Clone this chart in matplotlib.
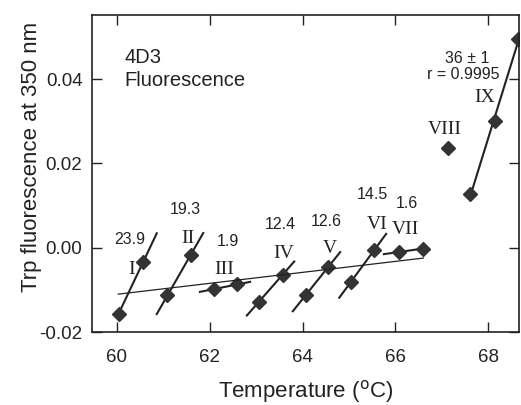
import matplotlib
matplotlib.use("Agg")
import matplotlib.pyplot as plt
import numpy as np

plt.rcParams['font.family'] = ['Liberation Sans', 'DejaVu Sans']

# measured points (temperature, fluorescence) for each transition
seg_x = [
    [60.04, 60.57],
    [61.09, 61.59],
    [62.09, 62.59],
    [63.06, 63.57],
    [64.07, 64.55],
    [65.04, 65.54],
    [66.08, 66.59],
    [67.61, 68.15, 68.64],
]
seg_y = [
    [-0.0156, -0.0033],
    [-0.0113, -0.0017],
    [-0.0098, -0.0087],
    [-0.0128, -0.0064],
    [-0.0112, -0.0046],
    [-0.0081, -0.0006],
    [-0.0010, -0.0002],
    [0.0128, 0.0301, 0.0495],
]
# x extent of each fitted line
fit_range = [
    [60.0, 60.86],
    [60.86, 61.86],
    [61.79, 62.87],
    [62.80, 63.82],
    [63.79, 64.81],
    [64.79, 65.80],
    [65.75, 66.59],
    [67.61, 68.70],
]
viii_x = [67.13]
viii_y = [0.0236]

# baseline fit
base_x = [60.03, 66.60]
base_y = [-0.0110, -0.00245]

roman = ["I", "II", "III", "IV", "V", "VI", "VII", "VIII", "IX"]
roman_pos = [(60.32, -0.0052), (61.52, 0.0023), (62.31, -0.0051), (63.60, -0.0013),
             (64.59, -0.0001), (65.60, 0.0055), (66.21, 0.0043), (67.07, 0.0281),
             (67.93, 0.0356)]
slopes = ["23.9", "19.3", "1.9", "12.4", "12.6", "14.5", "1.6"]
slope_pos = [(60.28, 0.0019), (61.47, 0.0090), (62.39, 0.0015), (63.51, 0.0055),
             (64.52, 0.0063), (65.51, 0.0126), (66.24, 0.0106)]

fig = plt.figure(figsize=(5.21, 4.05), dpi=100)
ax = fig.add_axes([0.177, 0.180, 0.820, 0.783])

ink = "#222222"
dark = "#333333"
for xs, ys, (x0, x1) in zip(seg_x, seg_y, fit_range):
    k, b = np.polyfit(xs, ys, 1)
    ax.plot([x0, x1], [k * x0 + b, k * x1 + b], color=ink, lw=1.5)
    ax.plot(xs, ys, linestyle="none", marker="D", ms=7.5, color=dark)
ax.plot(viii_x, viii_y, linestyle="none", marker="D", ms=7.5, color=dark)
ax.plot(base_x, base_y, color=ink, lw=0.9)

for lab, (x, y) in zip(roman, roman_pos):
    ax.text(x, y, lab, family=["Liberation Serif", "DejaVu Serif"], fontsize=14,
            ha="center", va="center", color=ink)
for lab, (x, y) in zip(slopes, slope_pos):
    ax.text(x, y, lab, fontsize=11.5, ha="center", va="center", color=ink)
ax.text(67.54, 0.0448, "36 \u00b1 1", fontsize=11.5, ha="center", va="center", color=ink)
ax.text(67.46, 0.0410, "r = 0.9995", fontsize=11.5, ha="center", va="center", color=ink)

ax.text(60.17, 0.0452, "4D3", fontsize=14.5, ha="left", va="center", color=ink)
ax.text(60.17, 0.0396, "Fluorescence", fontsize=14.5, ha="left", va="center", color=ink)

ax.set_xlim(59.47, 68.67)
ax.set_ylim(-0.02, 0.0552)
ax.set_xticks([60, 62, 64, 66, 68])
ax.set_yticks([-0.02, 0.0, 0.02, 0.04])
ax.set_yticklabels(["-0.02", "0.00", "0.02", "0.04"])
ax.tick_params(direction="in", length=7, width=1, top=True, right=True,
               labelsize=13.5, colors=ink)
ax.tick_params(axis="x", pad=12)
ax.tick_params(axis="y", pad=7)
for s in ax.spines.values():
    s.set_linewidth(1.2)
    s.set_color(ink)

ax.set_xlabel("Temperature ($^{\\rm o}$C)", fontsize=16, color=ink, labelpad=9)
ax.set_ylabel("Trp fluorescence at 350 nm", fontsize=16, color=ink)
ax.yaxis.set_label_coords(-0.118, 0.552)

fig.savefig("out.png", dpi=100)
